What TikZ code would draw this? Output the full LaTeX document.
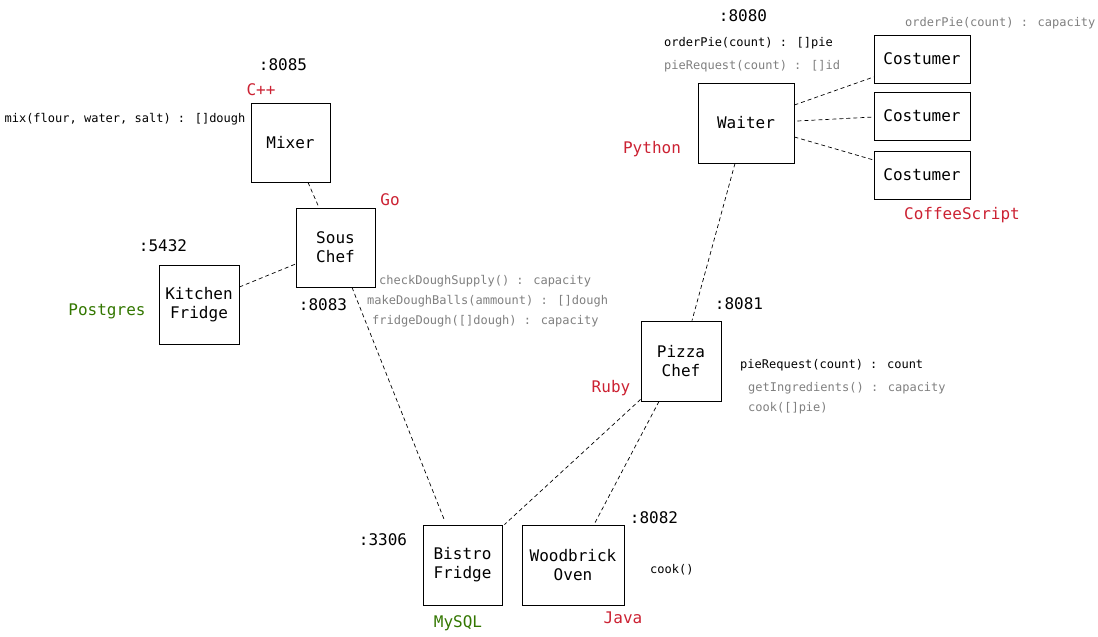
\documentclass[tikz,border=0pt]{standalone}
\usepackage{fontspec}
\setmainfont{DejaVu Sans Mono}
\definecolor{lred}{RGB}{204,34,51}
\definecolor{lgreen}{RGB}{51,119,0}
\definecolor{lgray}{RGB}{128,128,128}
\begin{document}
\begin{tikzpicture}[x=1pt,y=-1pt,
  box/.style={draw,line width=0.8pt,inner sep=0pt,align=center,font=\fontsize{16}{19}\selectfont},
  conn/.style={dashed,line width=0.7pt,dash pattern=on 4pt off 3pt},
  port/.style={font=\fontsize{16}{19}\selectfont,text=black,inner sep=0pt},
  lang/.style={font=\fontsize{16}{19}\selectfont,text=lred,inner sep=0pt},
  db/.style={font=\fontsize{16}{19}\selectfont,text=lgreen,inner sep=0pt},
  fn/.style={font=\fontsize{12}{14}\selectfont,text=black,inner sep=0pt,anchor=west},
  fng/.style={font=\fontsize{12}{14}\selectfont,text=lgray,inner sep=0pt,anchor=west}]
\useasboundingbox[fill=white] (0,0) rectangle (1098,637);
% boxes
\node[box,minimum width=79,minimum height=79] (mixer) at (290.5,142.5) {Mixer};
\node[box,minimum width=79,minimum height=79] (sous) at (335.5,247.5) {Sous\\Chef};
\node[box,minimum width=80,minimum height=79] (kfridge) at (199,304.5) {Kitchen\\Fridge};
\node[box,minimum width=96,minimum height=80] (waiter) at (746,123) {Waiter};
\node[box,minimum width=96,minimum height=48] (c1) at (922,59) {Costumer};
\node[box,minimum width=96,minimum height=48] (c2) at (922,116) {Costumer};
\node[box,minimum width=96,minimum height=48] (c3) at (922,175) {Costumer};
\node[box,minimum width=80,minimum height=80] (pizza) at (681,361) {Pizza\\Chef};
\node[box,minimum width=79,minimum height=80] (bistro) at (462.5,565) {Bistro\\Fridge};
\node[box,minimum width=102,minimum height=80] (oven) at (573,565) {Woodbrick\\Oven};
% connectors
\draw[conn] ([xshift=17.5pt]mixer.south) -- ([xshift=-16.5pt]sous.north);
\draw[conn] ([yshift=17.5pt]kfridge.east) -- ([yshift=-16.5pt]sous.west);
\draw[conn] ([xshift=16.5pt]sous.south) -- ([xshift=-17.5pt,yshift=3pt]bistro.north);
\draw[conn] ([xshift=-11pt]waiter.south) -- ([xshift=11pt]pizza.north);
\draw[conn] ([yshift=18pt]waiter.east) -- ([yshift=-18pt]c1.west);
\draw[conn] ([xshift=3pt,yshift=2pt]waiter.east) -- ([yshift=-1pt]c2.west);
\draw[conn] ([yshift=-14pt]waiter.east) -- ([yshift=15pt]c3.west);
\draw[conn] ([yshift=2pt]pizza.south west) -- ([xshift=2pt]bistro.north east);
\draw[conn] ([xshift=-22pt]pizza.south) -- ([xshift=21pt]oven.north);
% labels
\node[port] (p8085) at (283,65) {:8085};
\node[lang] (lcpp) at (261,90) {C++};
\node[fn,anchor=center] (fmix) at (125,119) {mix(flour, water, salt) : []dough};
\node[lang] (lgo) at (390,200) {Go};
\node[port] (p5432) at (163,246) {:5432};
\node[db] (lpg) at (107,311) {Postgres};
\node[port] (p8083) at (323,305) {:8083};
\node[fng] (fs1) at (379,281) {checkDoughSupply() : capacity};
\node[fng] (fs2) at (367,301) {makeDoughBalls(ammount) : []dough};
\node[fng] (fs3) at (372,321) {fridgeDough([]dough) : capacity};
\node[port] (p8080) at (743,16) {:8080};
\node[fn] (fw1) at (664,43) {orderPie(count) : []pie};
\node[fng] (fw2) at (664,66) {pieRequest(count) : []id};
\node[fng] (fc1) at (905,23) {orderPie(count) : capacity};
\node[lang] (lpy) at (652,149) {Python};
\node[lang] (lcs) at (962,215) {CoffeeScript};
\node[port] (p8081) at (739,304) {:8081};
\node[fn] (fp1) at (740,365) {pieRequest(count) : count};
\node[fng] (fp2) at (748,388) {getIngredients() : capacity};
\node[fng] (fp3) at (748,408) {cook([]pie)};
\node[lang] (lruby) at (611,388) {Ruby};
\node[port] (p8082) at (654,518) {:8082};
\node[port] (p3306) at (383,540) {:3306};
\node[fn] (fo1) at (650,570) {cook()};
\node[db] (lmysql) at (458,623) {MySQL};
\node[lang] (ljava) at (623,618) {Java};
\end{tikzpicture}
\end{document}
